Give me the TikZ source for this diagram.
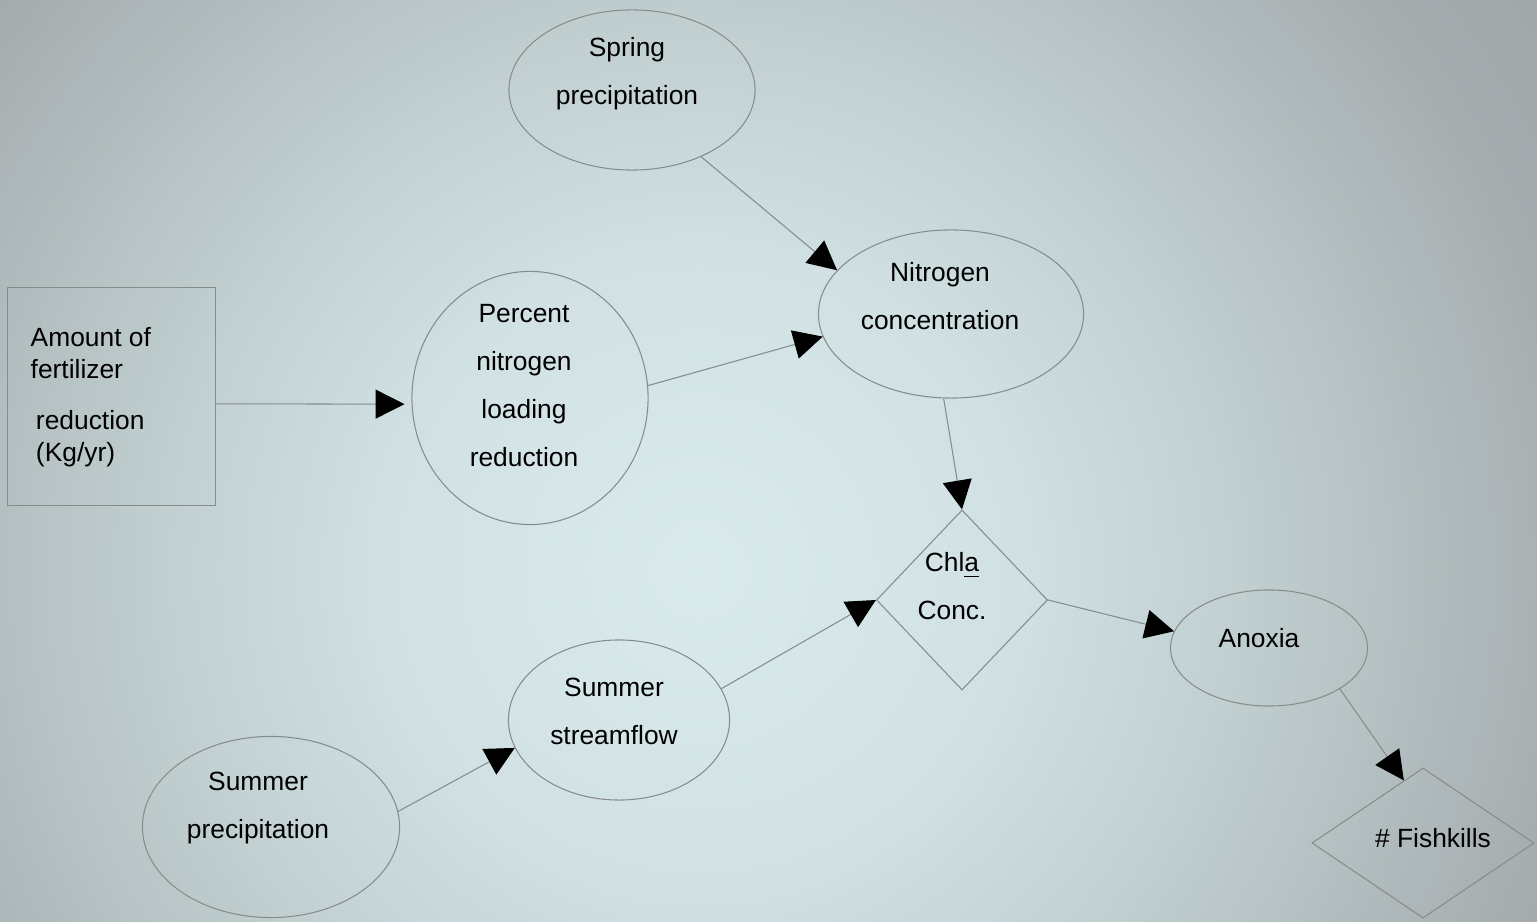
\documentclass[tikz,border=0pt]{standalone}
\usepackage{fontspec}
\setmainfont{Liberation Sans}
\usetikzlibrary{shapes.geometric, arrows.meta}

\definecolor{edgegray}{HTML}{868C8E}
\definecolor{bgA}{HTML}{DAEBEE}
\definecolor{bgB}{HTML}{D0E0E3}
\definecolor{bgC}{HTML}{C1CFD1}
\definecolor{bgD}{HTML}{AFB9BB}
\definecolor{bgE}{HTML}{A5ABAE}
\definecolor{bgF}{HTML}{A2A7AA}
% glow sized in real lengths (1 px of the picture = 0.01cm = 0.2835bp)
\pgfdeclareradialshading{bgglow}{\pgfpoint{0bp}{0bp}}{color(0bp)=(bgA); color(91bp)=(bgB); color(153bp)=(bgC); color(215bp)=(bgD); color(255bp)=(bgE); color(284bp)=(bgF); color(340bp)=(bgF)}

\begin{document}
\begin{tikzpicture}[x=0.01cm, y=-0.01cm,
  box/.style={rectangle, draw=edgegray, line width=0.3pt, inner sep=0pt},
  oval/.style={ellipse, draw=edgegray, line width=0.3pt, inner sep=0pt},
  decis/.style={diamond, draw=edgegray, line width=0.3pt, inner sep=0pt},
  nodetext/.style={font=\fontsize{7.5}{13.66}\selectfont, align=center, inner sep=0pt},
  link/.style={draw=edgegray, line width=0.3pt, -{Triangle[length=0.29cm, width=0.29cm, color=black]}}]

% Background glow
\useasboundingbox (0,0) rectangle (1537,922);
\begin{scope}
\clip (0,0) rectangle (1537,922);
\node[inner sep=0pt] (glow) at (700,570) {\pgfuseshading{bgglow}};
\end{scope}

% Shapes
\node[box, minimum width=2.07cm, minimum height=2.17cm] (fert) at (111.5,396.5) {};
\node[oval, minimum width=2.46cm, minimum height=1.60cm] (spring) at (632,90) {};
\node[oval, minimum width=2.36cm, minimum height=2.53cm] (percent) at (530,398) {};
\node[oval, minimum width=2.65cm, minimum height=1.68cm] (nitro) at (951,314) {};
\node[decis, minimum width=1.71cm, minimum height=1.80cm] (chla) at (962,600) {};
\node[oval, minimum width=1.97cm, minimum height=1.16cm] (anoxia) at (1269,648) {};
\node[decis, minimum width=2.22cm, minimum height=1.50cm] (fish) at (1423,843) {};
\node[oval, minimum width=2.21cm, minimum height=1.60cm] (stream) at (619,720) {};
\node[oval, minimum width=2.57cm, minimum height=1.81cm] (sumprecip) at (271,827) {};

% Texts
\node[nodetext, anchor=west, align=left, font=\fontsize{7.5}{9.1}\selectfont] (ferttext) at (30,397)
  {Amount of\\fertilizer\\[5.4pt]\hspace{1.5pt}reduction\\\hspace{1.5pt}(Kg/yr)};
\node[nodetext] (springtext) at (627,74) {Spring\\precipitation};
\node[nodetext] (percenttext) at (524,386) {Percent\\nitrogen\\loading\\reduction};
\node[nodetext] (nitrotext) at (940,296) {Nitrogen\\concentration};
\node[nodetext] (chlatext) at (952,586) {Chl\underline{a}\\Conc.};
\node[nodetext] (anoxiatext) at (1259,638) {Anoxia};
\node[nodetext] (fishtext) at (1433,838) {\# Fishkills};
\node[nodetext] (streamtext) at (614,711) {Summer\\streamflow};
\node[nodetext] (sumpreciptext) at (258,808) {Summer\\precipitation};

% Connectors
\draw[link, shorten >=0.07cm] (fert.-4) -- (percent.-177);
\draw[link] (percent.6) -- (nitro.-170);
\draw[link] (spring.-44) -- (nitro.159);
\draw[link] (nitro.-95) -- (chla.north);
\draw[link] (stream.17) -- (chla.west);
\draw[link] (chla.east) -- (anoxia.170);
\draw[link] (anoxia.-30) -- (fish.107);
\draw[link] (sumprecip.7) -- (stream.-165);
\end{tikzpicture}
\end{document}
